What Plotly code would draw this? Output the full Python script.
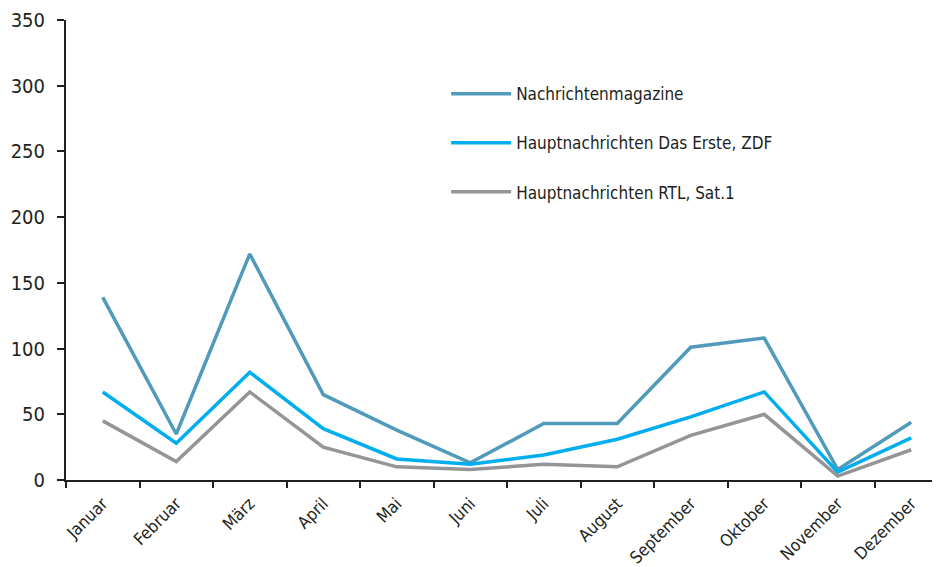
import plotly.graph_objects as go

months = ['Januar', 'Februar', 'März', 'April', 'Mai', 'Juni', 'Juli',
          'August', 'September', 'Oktober', 'November', 'Dezember']

magazine = [139, 35, 172, 65, 38, 13, 43, 43, 101, 108, 8, 44]
ard_zdf = [67, 28, 82, 39, 16, 12, 19, 31, 48, 67, 6, 32]
rtl_sat1 = [45, 14, 67, 25, 10, 8, 12, 10, 34, 50, 3, 23]

names = ['Nachrichtenmagazine', 'Hauptnachrichten Das Erste, ZDF', 'Hauptnachrichten RTL, Sat.1']
colors = ['#4f9bb9', '#00aeef', '#939598']

font_name = 'DejaVu Sans Condensed, Liberation Sans Narrow, Arial Narrow, sans-serif'

fig = go.Figure()
for i, (name, vals, col) in enumerate(zip(names, [magazine, ard_zdf, rtl_sat1], colors)):
    fig.add_trace(go.Scatter(x=months, y=vals, name=name, mode='lines',
                             legendgroup='g%d' % i,
                             line=dict(color=col, width=3.5)))

# page body has an 8px margin, so the figure is shifted by that amount
fig.update_layout(
    width=940, height=559,
    margin=dict(l=58, r=0, t=12, b=87),
    paper_bgcolor='white', plot_bgcolor='white',
    font=dict(family=font_name, color='#231f20'),
    showlegend=True,
    legend=dict(x=0.431, y=0.878, xanchor='left', yanchor='top',
                font=dict(size=17, color='#231f20'),
                tracegroupgap=24, itemwidth=60,
                bgcolor='rgba(0,0,0,0)'),
    xaxis=dict(range=[-0.5, 11.5], showgrid=False, zeroline=False,
               automargin=False, ticklabelstandoff=5,
               showline=True, linecolor='#231f20', linewidth=2,
               ticks='outside', tickson='boundaries', ticklen=6, tickwidth=2,
               tickcolor='#231f20', tickangle=-45,
               tickfont=dict(size=17, color='#231f20')),
    yaxis=dict(range=[0, 350], dtick=50, showgrid=False, zeroline=False,
               automargin=False, ticklabelstandoff=8,
               showline=True, linecolor='#231f20', linewidth=2,
               ticks='outside', ticklen=7, tickwidth=2, tickcolor='#231f20',
               tickfont=dict(size=20, color='#231f20')),
)

fig.write_html("out.html")
